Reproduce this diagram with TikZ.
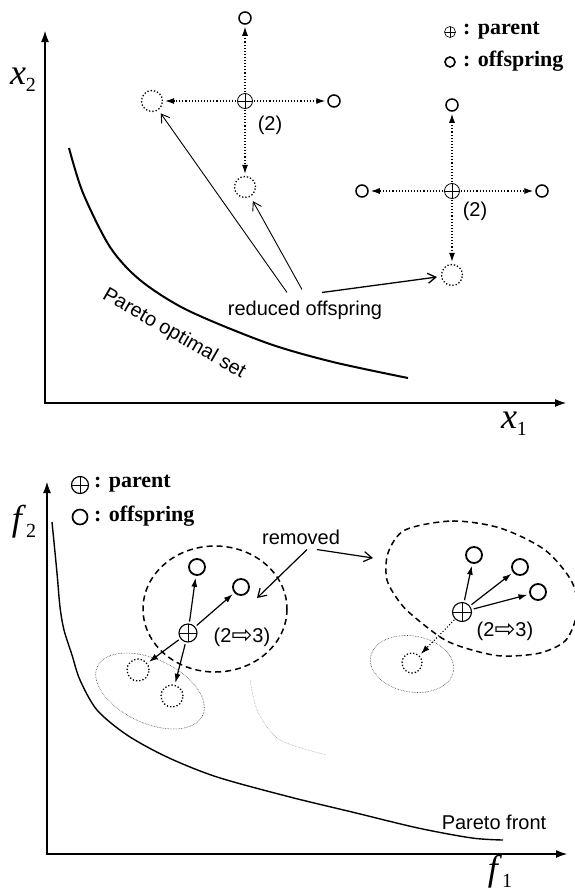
\documentclass[tikz,border=0pt]{standalone}
\usepackage{fontspec}
\setmainfont{Liberation Serif}
\setsansfont{Liberation Sans}
\newfontfamily\arrowfont{DejaVu Sans}
\usepackage{tikz}
\usetikzlibrary{positioning,arrows.meta,calc}
\tikzset{
  parent/.style  = {circle, draw, inner sep=0pt, minimum size=15pt, line width=0.8pt,
                    path picture={\draw[line width=0.8pt]
                      (path picture bounding box.north) -- (path picture bounding box.south)
                      (path picture bounding box.west) -- (path picture bounding box.east);}},
  child/.style   = {circle, draw, inner sep=0pt, minimum size=12pt, line width=1.5pt},
  reduced/.style = {circle, draw, dotted, inner sep=0pt, minimum size=21pt, line width=1.3pt},
  axis/.style    = {{Latex[length=12pt,width=8pt]}-{Latex[length=12pt,width=8pt]}, line width=2.2pt},
  darr/.style    = {-{Latex[length=9pt,width=6pt]}, dotted, line width=1.1pt,
                    shorten >=2pt, shorten <=1pt},
  sarr/.style    = {-{Latex[length=9pt,width=6pt]}, line width=1.2pt,
                    shorten >=2pt, shorten <=2pt},
  barb/.style    = {-{Straight Barb[length=8pt,width=10pt]}, line width=0.9pt},
  lab/.style     = {font=\sffamily\fontsize{20}{22}\selectfont, inner sep=1pt},
  leg/.style     = {font=\bfseries\fontsize{22}{24}\selectfont, inner sep=0pt, anchor=west},
  axlab/.style   = {font=\fontsize{36}{36}\selectfont, inner sep=0pt},
  region/.style  = {dash pattern=on 6pt off 4pt, line width=1.5pt},
  cloud/.style   = {densely dotted, line width=0.6pt, draw=black!75},
}
\newcommand{\subtwo}[1]{\raisebox{-7pt}{\fontsize{20}{20}\selectfont #1}}
\newcommand{\grows}{{\arrowfont\fontsize{25}{25}\selectfont\raisebox{-1pt}{⇨}}}

\begin{document}
\begin{tikzpicture}[x=1pt, y=-1pt]
  \useasboundingbox (0,0) rectangle (575,892);

  % --- decision space ---
  \coordinate (orgA) at (45,403);
  \coordinate (x1end) at (567,403);
  \coordinate (x2end) at (45,30);
  \draw[axis] (x2end) -- (orgA) -- (x1end);
  \node[axlab] (x2lab) at (23,80) {\textit{x}\subtwo{2}};
  \node[axlab] (x1lab) at (514,424) {\textit{x}\subtwo{1}};

  \draw[line width=2pt] plot[smooth] coordinates {(69,148) (83,193) (110,247) (140,280)
    (187,310) (267,343) (333,362) (408,378)};
  \node[lab, rotate=-30] (poslab) at (174,334) {Pareto optimal set};

  \node[parent, minimum size=11pt, line width=0.6pt] (legpa) at (450,32) {};
  \node[leg] (legpatxt) at (463,31) {: parent};
  \node[child, minimum size=10pt, line width=1.6pt] (legch) at (450,62) {};
  \node[leg] (legchtxt) at (463,61) {: offspring};

  \node[parent] (pa) at (245,101) {};
  \node[child] (pa-n) at (245,18) {};
  \node[child] (pa-e) at (334,101) {};
  \node[reduced] (pa-w) at (152,101) {};
  \node[reduced] (pa-s) at (245,187) {};
  \node[lab] (pa-lab) at (270,125) {(2)};

  \node[parent] (pb) at (452,191) {};
  \node[child] (pb-n) at (452,105) {};
  \node[child] (pb-w) at (362,191) {};
  \node[child] (pb-e) at (542,191) {};
  \node[reduced] (pb-s) at (452,275) {};
  \node[lab] (pb-lab) at (475,211) {(2)};

  \foreach \d in {n,e,w,s} {
    \draw[darr] (pa) -- (pa-\d);
    \draw[darr] (pb) -- (pb-\d);
  }

  \node[lab] (redlab) at (305,310) {reduced offspring};
  \draw[barb, shorten >=4pt] ($(redlab.north)+(-18,-7)$) -- (pa-w);
  \draw[barb, shorten >=5pt] ($(redlab.north)+(-3,-10)$) -- (pa-s);
  \draw[barb, line width=1.3pt, shorten >=4pt] ($(redlab.north)+(17,-7)$) -- (pb-s);

  % --- objective space ---
  \coordinate (orgB) at (47,854);
  \coordinate (f1end) at (568,854);
  \coordinate (f2end) at (47,481);
  \draw[axis] (f2end) -- (orgB) -- (f1end);
  \node[axlab] (f2lab) at (24,522) {\textit{f}\subtwo{2}};
  \node[axlab] (f1lab) at (500,872) {\textit{f}\subtwo{1}};

  \draw[line width=1.4pt] plot[smooth] coordinates {(52,522) (57,573) (60,607) (64,630)
    (72,655) (80,680) (97,710) (127,735) (167,757) (217,777) (290,797) (352,812)
    (418,828) (472,838) (503,840)};
  \node[lab] (pflab) at (494,822) {Pareto front};

  \node[parent, minimum size=17pt, line width=1.2pt] (legpb) at (80,485) {};
  \node[leg] (legpbtxt) at (94,484) {: parent};
  \node[child, minimum size=15pt, line width=1.7pt] (legcb) at (80,517) {};
  \node[leg] (legcbtxt) at (94,516) {: offspring};

  \node[parent, minimum size=18pt, line width=1.1pt] (qa) at (188,633) {};
  \node[child, minimum size=16pt, line width=1.8pt] (qa-1) at (197,567) {};
  \node[child, minimum size=16pt, line width=1.8pt] (qa-2) at (241,587) {};
  \node[reduced, minimum size=22pt] (qa-3) at (138,670) {};
  \node[reduced, minimum size=22pt] (qa-4) at (172,696) {};
  \node[lab] (qa-lab) at (242,637) {(2\grows3)};
  \foreach \k in {1,...,4}
    \draw[sarr] (qa) -- (qa-\k);
  \draw[region] (215,609) ellipse [x radius=72, y radius=63];
  \draw[cloud, rotate around={-25:(150,691)}] (150,691) ellipse [x radius=58, y radius=32];
  \draw[densely dotted, line width=0.5pt, black!45] plot[smooth] coordinates {(250,680)
    (258,712) (280,740) (327,755)};

  \node[parent, minimum size=19pt, line width=1.1pt] (qb) at (462,612) {};
  \node[child, minimum size=16pt, line width=1.8pt] (qb-1) at (474,555) {};
  \node[child, minimum size=16pt, line width=1.8pt] (qb-2) at (520,567) {};
  \node[child, minimum size=16pt, line width=1.8pt] (qb-3) at (538,592) {};
  \node[reduced, minimum size=20pt] (qb-4) at (412,663) {};
  \node[lab] (qb-lab) at (505,631) {(2\grows3)};
  \foreach \k in {1,2,3}
    \draw[sarr] (qb) -- (qb-\k);
  \draw[darr] (qb) -- (qb-4);
  \draw[region] plot[smooth cycle] coordinates {(405,530) (452,521) (500,528) (545,550)
    (572,582) (577,612) (566,640) (540,653) (502,656) (472,650) (445,640) (418,620)
    (401,604) (387,580) (388,553)};
  \draw[cloud, rotate around={-10:(412,664)}] (412,664) ellipse [x radius=42, y radius=28];

  \node[lab] (remlab) at (301,537) {removed};
  \coordinate (remA) at (257,598);
  \coordinate (remB) at (373,558);
  \draw[barb, line width=1.2pt] ($(remlab.south)+(6,4)$) -- (remA);
  \draw[barb, line width=1.2pt] ($(remlab.south)+(16,4)$) -- (remB);
\end{tikzpicture}
\end{document}
